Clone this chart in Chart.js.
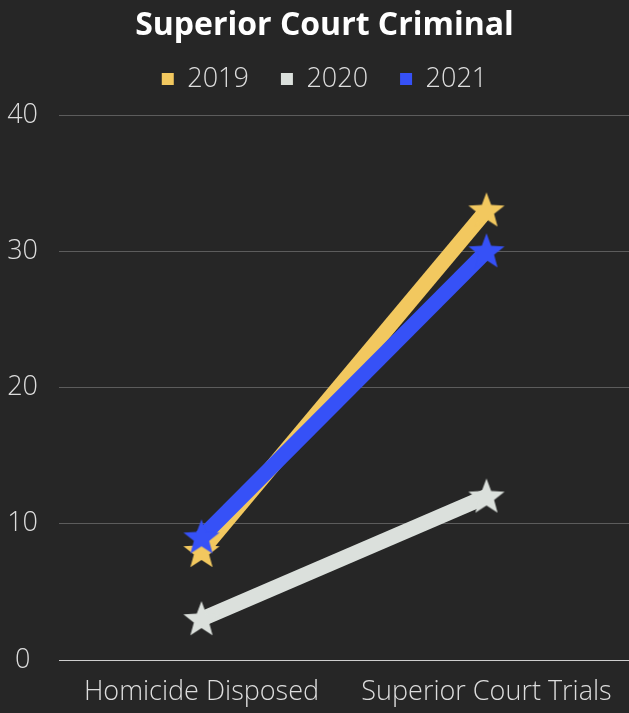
<!DOCTYPE html>
<html>
<head>
<meta charset="utf-8">
<script src="https://cdn.jsdelivr.net/npm/chart.js@4"></script>
<style>
  html, body { margin: 0; padding: 0; background: #262626; }
  #wrap { width: 629px; height: 713px; }
</style>
</head>
<body>
<div id="wrap"><canvas id="chart"></canvas></div>
<script>
// Datos del gráfico
const categories = ["Homicide Disposed", "Superior Court Trials"];
const seriesNames = ["2019", "2020", "2021"];
const values2019 = [8, 33];
const values2020 = [3, 12];
const values2021 = [9, 30];
const yTicks = [0, 10, 20, 30, 40];

const colors = ["#f2c85f", "#dbe0dc", "#3651f7"];

// Estrella rellena para los puntos
function makeStar(color) {
    const c = document.createElement('canvas');
    c.width = 40; c.height = 40;
    const ctx = c.getContext('2d');
    ctx.fillStyle = color;
    ctx.beginPath();
    for (let i = 0; i < 10; i++) {
        const r = i % 2 === 0 ? 19 : 8;
        const a = -Math.PI / 2 + i * Math.PI / 5;
        const x = 20 + r * Math.cos(a);
        const y = 21 + r * Math.sin(a);
        if (i === 0) ctx.moveTo(x, y); else ctx.lineTo(x, y);
    }
    ctx.closePath();
    ctx.fill();
    return c;
}

// Espacio extra debajo de la leyenda
const legendMargin = {
    id: 'legendMargin',
    beforeInit(chart) {
        const fit = chart.legend.fit;
        chart.legend.fit = function () {
            fit.bind(chart.legend)();
            this.height += 12.5;
        };
    }
};

const allValues = [values2019, values2020, values2021];
const datasets = seriesNames.map((name, i) => ({
    label: name,
    data: allValues[i],
    borderColor: colors[i],
    backgroundColor: colors[i],
    borderWidth: 15,
    pointStyle: makeStar(colors[i]),
    pointRadius: 18,
    order: 3 - i
}));

new Chart(document.getElementById('chart'), {
    type: 'line',
    data: { labels: categories, datasets: datasets },
    plugins: [legendMargin],
    options: {
        responsive: true,
        maintainAspectRatio: false,
        animation: false,
        layout: { autoPadding: false, padding: { left: 20, right: 0, top: 0, bottom: 0 } },
        plugins: {
            title: {
                display: true,
                text: "Superior Court Criminal",
                color: "#ffffff",
                font: { family: "'Open Sans'", size: 32, weight: 'bold', lineHeight: 1 },
                padding: { top: 10, bottom: -8.5 }
            },
            legend: {
                labels: {
                    color: "#dddddd",
                    font: { family: "'Open Sans'", size: 27, weight: '300' },
                    boxWidth: 12,
                    boxHeight: 12,
                    padding: 32,
                    sort: (a, b) => a.datasetIndex - b.datasetIndex,
                    generateLabels: chart => {
                        const items = Chart.defaults.plugins.legend.labels.generateLabels(chart);
                        items.forEach(it => { it.lineWidth = 0; });
                        return items;
                    }
                }
            },
            tooltip: { enabled: false }
        },
        scales: {
            x: {
                offset: true,
                grid: { display: false },
                border: { display: false },
                ticks: {
                    color: "#dddddd",
                    font: { family: "'Open Sans'", size: 27, weight: '300' },
                    padding: 8,
                    maxRotation: 0
                },
                afterFit: s => { s.height = 53; s.paddingLeft = 0; s.paddingRight = 0; }
            },
            y: {
                min: 0,
                max: 40,
                afterBuildTicks: s => { s.ticks = yTicks.map(v => ({ value: v })); },
                grid: {
                    color: ctx => ctx.tick && ctx.tick.value === 0 ? "#cfcfcf" : "#5c5c5c",
                    drawTicks: false
                },
                border: { display: false },
                ticks: {
                    color: "#dddddd",
                    font: { family: "'Open Sans'", size: 27, weight: '300' },
                    crossAlign: 'center',
                    padding: 21
                },
                afterFit: s => {
                    s.width = 39;
                    s.paddingTop = 0;
                    s.paddingBottom = 0;
                    // sin recorte de las etiquetas del eje
                    s._computeLabelArea = () => undefined;
                }
            }
        }
    }
});
</script>
</body>
</html>
